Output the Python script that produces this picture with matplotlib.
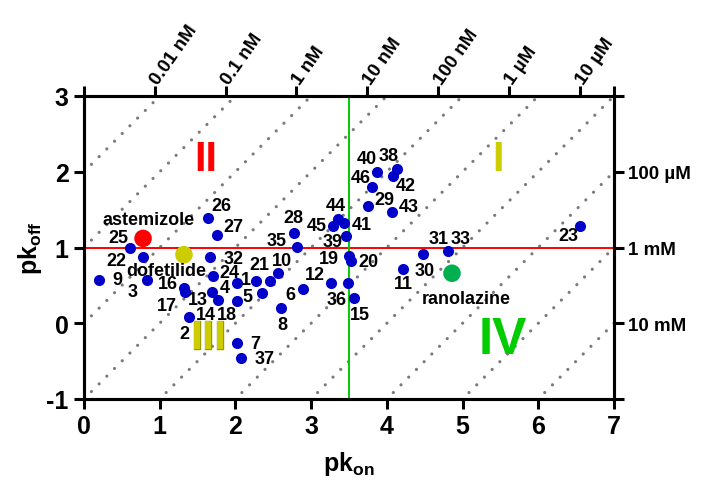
import numpy as np
import matplotlib.pyplot as plt
import matplotlib.patheffects as pe

plt.rcParams['font.family'] = ['Liberation Sans', 'DejaVu Sans']
plt.rcParams['font.weight'] = 'bold'
plt.rcParams['axes.unicode_minus'] = False
plt.rcParams['mathtext.fontset'] = 'custom'
plt.rcParams['mathtext.rm'] = 'Liberation Sans:bold'
plt.rcParams['mathtext.bf'] = 'Liberation Sans:bold'
plt.rcParams['mathtext.it'] = 'Liberation Sans:bold'

# compounds (pk_on, pk_off)
pk_on = [0.20, 0.61, 0.775, 0.83, 1.32, 1.34, 1.39, 1.64, 1.75, 1.66, 1.71, 1.69,
         1.77, 2.02, 2.02, 2.27, 2.35, 2.46, 2.56, 2.89, 2.60, 2.78, 2.81, 3.26,
         3.49, 3.57, 2.02, 2.07, 3.35, 3.29, 3.43, 3.46, 3.50, 3.52, 3.87, 4.13,
         4.08, 3.80, 3.75, 4.07, 4.48, 4.81, 4.21, 6.55]
pk_off = [0.575, 1.00, 0.88, 0.575, 0.46, 0.41, 0.08, 1.385, 1.165, 0.88, 0.63, 0.417,
          0.31, 0.527, 0.30, 0.56, 0.395, 0.56, 0.66, 0.45, 0.20, 1.19, 1.01, 0.527,
          0.527, 0.33, -0.265, -0.46, 1.376, 1.29, 1.33, 1.15, 0.89, 0.82, 2.00, 2.03,
          1.95, 1.795, 1.544, 1.47, 0.914, 0.95, 0.716, 1.28]

# reference drugs
ref_names = ['astemizole', 'dofetilide', 'ranolazine']
ref_on = [0.78, 1.32, 4.86]
ref_off = [1.12, 0.905, 0.66]
ref_colors = ['#ff0000', '#cccc00', '#00b050']

# compound number labels (text, x, y)
num_labels = [('1', 2.14, 0.575), ('2', 1.33, -0.14), ('3', 0.64, 0.417), ('4', 1.86, 0.475),
              ('5', 2.16, 0.356), ('6', 2.72, 0.386), ('7', 2.26, -0.27), ('8', 2.62, -0.01),
              ('9', 0.44, 0.575), ('10', 2.62, 0.83), ('11', 4.22, 0.52), ('12', 3.05, 0.65),
              ('13', 1.50, 0.31), ('14', 1.61, 0.11), ('15', 3.65, 0.12), ('16', 1.11, 0.52),
              ('17', 1.10, 0.23), ('18', 1.885, 0.11), ('19', 3.24, 0.85), ('20', 3.76, 0.81),
              ('21', 2.32, 0.78), ('22', 0.43, 0.83), ('23', 6.40, 1.16), ('24', 1.92, 0.67),
              ('25', 0.45, 1.13), ('26', 1.81, 1.55), ('27', 1.97, 1.28), ('28', 2.76, 1.40),
              ('29', 3.97, 1.63), ('30', 4.50, 0.69), ('31', 4.68, 1.125), ('32', 1.98, 0.85),
              ('33', 4.97, 1.125), ('35', 2.55, 1.09), ('36', 3.33, 0.32), ('37', 2.38, -0.47),
              ('38', 4.02, 2.21), ('39', 3.28, 1.08), ('40', 3.74, 2.17), ('41', 3.67, 1.31),
              ('42', 4.25, 1.82), ('43', 4.29, 1.54), ('44', 3.32, 1.55), ('45', 3.08, 1.29),
              ('46', 3.66, 1.93)]
ref_label_pos = [(0.85, 1.37), (1.09, 0.69), (5.05, 0.33)]

top_labels = ['0.01 nM', '0.1 nM', '1 nM', '10 nM', '100 nM', '1 \u00b5M', '10 \u00b5M']
right_ticks = [-1, 0, 1, 2, 3]
right_labels = ['', '10 mM', '1 mM', '100 \u00b5M', '']
iso_offsets = np.arange(-7, 3)

fig = plt.figure(figsize=(7.02, 4.85), dpi=100)
ax = fig.add_axes([84 / 702, 85 / 485, 530 / 702, 303 / 485])
ax.set_xlim(0, 7)
ax.set_ylim(-1, 3)

xx = np.array([-3.0, 10.0])
for c in iso_offsets:
    ax.plot(xx, xx + c, color='#7a7a7a', lw=2.3, dashes=(0.01, 3.4),
            dash_capstyle='round', zorder=1)

ax.axhline(1, color='#ff0000', lw=1.4, zorder=2)
ax.axvline(3.5, color='#00cc00', lw=1.4, zorder=2)

ax.scatter(pk_on, pk_off, s=64, color='#0000c8', zorder=3, linewidths=0)
ax.scatter(ref_on, ref_off, s=160, color=ref_colors, zorder=3, linewidths=0)

for t, x, y in num_labels:
    ax.text(x, y, t, fontsize=13, fontweight='bold', ha='center', va='center', zorder=4)
for name, (x, y) in zip(ref_names, ref_label_pos):
    ax.text(x, y, name, fontsize=13, fontweight='bold', ha='center', va='center', zorder=4)

# quadrant numerals
ax.text(1.61, 2.17, 'II', color='#ff0000', fontsize=30, fontweight='bold', ha='center', va='center')
ax.text(5.47, 2.17, 'I', color='#cccc00', fontsize=30, fontweight='bold', ha='center', va='center')
ax.text(1.64, -0.2, 'III', color='#cccc00', fontsize=30, fontweight='bold', ha='center', va='center',
        path_effects=[pe.withStroke(linewidth=1, foreground='#999900')])
ax.text(5.53, -0.21, 'IV', color='#00cc00', fontsize=37, fontweight='bold', ha='center', va='center')

for s in ax.spines.values():
    s.set_linewidth(2.2)
ax.set_xticks(range(8))
ax.set_yticks([-1, 0, 1, 2, 3])
ax.tick_params(direction='out', length=7, width=2.2, labelsize=18, pad=4)
ax.set_xlabel(r'$\mathbf{pk_{on}}$', fontsize=18, labelpad=8)
ax.set_ylabel(r'$\mathbf{pk_{off}}$', fontsize=18, labelpad=2)

# top: dissociation constant
top = ax.twiny()
top.set_xlim(0, 7)
tpos = [0.935 * k for k in range(8)] + [7]
top.set_xticks(tpos)
top.set_xticklabels([''] + top_labels + [''], rotation=55, ha='left', va='center',
                    rotation_mode='anchor', fontsize=13.5, fontweight='bold')
top.tick_params(direction='out', length=7, width=2.2, pad=3)
for s in top.spines.values():
    s.set_linewidth(2.2)

# right: concentration
right = ax.twinx()
right.set_ylim(-1, 3)
right.set_yticks(right_ticks)
right.set_yticklabels(right_labels, fontsize=13.5, fontweight='bold')
right.tick_params(direction='out', length=7, width=2.2, pad=3)

fig.savefig('out.png', dpi=100)
